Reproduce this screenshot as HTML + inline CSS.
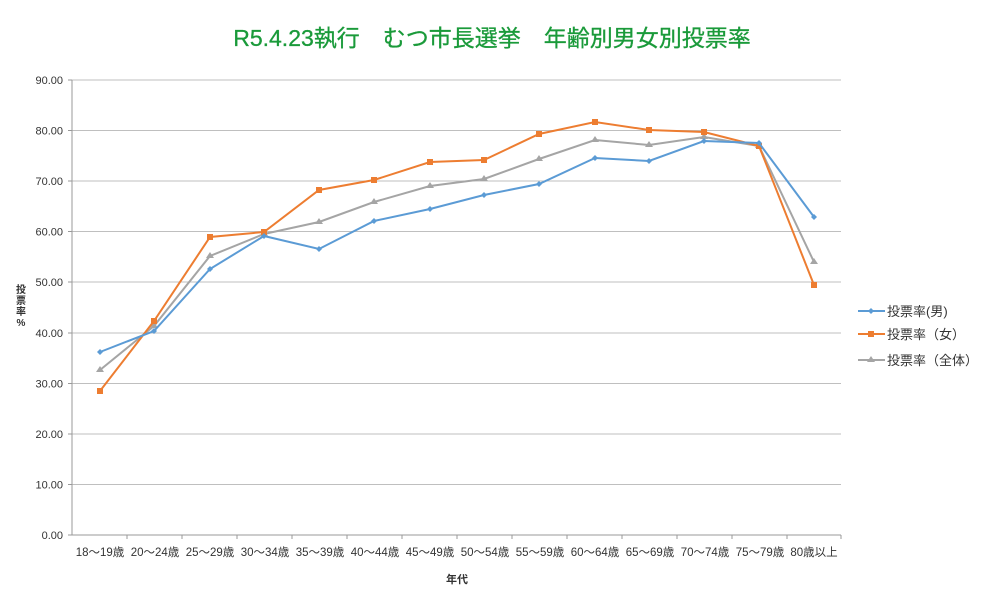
<!DOCTYPE html>
<html><head><meta charset="utf-8"><style>body{margin:0;background:#fff}svg{display:block}</style></head><body>
<svg width="1000" height="615" xmlns="http://www.w3.org/2000/svg" font-family="'Liberation Sans','Noto Sans CJK JP',sans-serif">
<text x="492" y="46" text-anchor="middle" font-size="23" fill="#1a9a3a" stroke="#1a9a3a" stroke-width="0.3">R5.4.23執行　むつ市長選挙　年齢別男女別投票率</text>
<g stroke="#bfbfbf" stroke-width="1">
<line x1="72" y1="80" x2="841" y2="80"/><line x1="72" y1="130.5" x2="841" y2="130.5"/><line x1="72" y1="181" x2="841" y2="181"/><line x1="72" y1="231.5" x2="841" y2="231.5"/><line x1="72" y1="282" x2="841" y2="282"/><line x1="72" y1="333" x2="841" y2="333"/><line x1="72" y1="383.5" x2="841" y2="383.5"/><line x1="72" y1="434" x2="841" y2="434"/><line x1="72" y1="484.5" x2="841" y2="484.5"/>
</g>
<g stroke="#999" stroke-width="1">
<line x1="72" y1="535" x2="841" y2="535"/><line x1="72" y1="80" x2="72" y2="535"/>
<line x1="68" y1="80" x2="72" y2="80"/><line x1="68" y1="130.5" x2="72" y2="130.5"/><line x1="68" y1="181" x2="72" y2="181"/><line x1="68" y1="231.5" x2="72" y2="231.5"/><line x1="68" y1="282" x2="72" y2="282"/><line x1="68" y1="333" x2="72" y2="333"/><line x1="68" y1="383.5" x2="72" y2="383.5"/><line x1="68" y1="434" x2="72" y2="434"/><line x1="68" y1="484.5" x2="72" y2="484.5"/><line x1="68" y1="535" x2="72" y2="535"/>
<line x1="127" y1="535" x2="127" y2="539"/><line x1="182" y1="535" x2="182" y2="539"/><line x1="237" y1="535" x2="237" y2="539"/><line x1="292" y1="535" x2="292" y2="539"/><line x1="347" y1="535" x2="347" y2="539"/><line x1="402" y1="535" x2="402" y2="539"/><line x1="457" y1="535" x2="457" y2="539"/><line x1="512" y1="535" x2="512" y2="539"/><line x1="567" y1="535" x2="567" y2="539"/><line x1="622" y1="535" x2="622" y2="539"/><line x1="677" y1="535" x2="677" y2="539"/><line x1="732" y1="535" x2="732" y2="539"/><line x1="787" y1="535" x2="787" y2="539"/><line x1="841" y1="535" x2="841" y2="539"/>
</g>
<g font-size="11" fill="#333" text-anchor="end">
<text x="63" y="84">90.00</text><text x="63" y="134.5">80.00</text><text x="63" y="185">70.00</text><text x="63" y="235.5">60.00</text><text x="63" y="286">50.00</text><text x="63" y="337">40.00</text><text x="63" y="387.5">30.00</text><text x="63" y="438">20.00</text><text x="63" y="488.5">10.00</text><text x="63" y="539">0.00</text>
</g>
<g font-size="11.5" fill="#333" text-anchor="middle">
<text x="100" y="556">18〜19歳</text><text x="155" y="556">20〜24歳</text><text x="210" y="556">25〜29歳</text><text x="265" y="556">30〜34歳</text><text x="320" y="556">35〜39歳</text><text x="375" y="556">40〜44歳</text><text x="430" y="556">45〜49歳</text><text x="485" y="556">50〜54歳</text><text x="540" y="556">55〜59歳</text><text x="595" y="556">60〜64歳</text><text x="650" y="556">65〜69歳</text><text x="705" y="556">70〜74歳</text><text x="760" y="556">75〜79歳</text><text x="814" y="556">80歳以上</text>
</g>
<text x="457" y="583" font-size="11" fill="#333" text-anchor="middle" font-weight="bold">年代</text>
<g font-size="10" fill="#333" font-weight="bold" text-anchor="middle">
<text x="21" y="293">投</text><text x="21" y="304">票</text><text x="21" y="315">率</text><text x="21" y="326">%</text>
</g>
<polyline fill="none" stroke="#a5a5a5" stroke-width="2" points="100,370 154,326 210,256 264,234 319,222 374,202 430,186 484,179 539,159 595,140 649,145 704,137 759,146 814,262"/>
<g fill="#a5a5a5"><path d="M100,366l4,6h-8z"/><path d="M154,322l4,6h-8z"/><path d="M210,252l4,6h-8z"/><path d="M264,230l4,6h-8z"/><path d="M319,218l4,6h-8z"/><path d="M374,198l4,6h-8z"/><path d="M430,182l4,6h-8z"/><path d="M484,175l4,6h-8z"/><path d="M539,155l4,6h-8z"/><path d="M595,136l4,6h-8z"/><path d="M649,141l4,6h-8z"/><path d="M704,133l4,6h-8z"/><path d="M759,142l4,6h-8z"/><path d="M814,258l4,6h-8z"/></g>
<polyline fill="none" stroke="#ed7d31" stroke-width="2" points="100,391 154,321 210,237 264,232 319,190 374,180 430,162 484,160 539,134 595,122 649,130 704,132 759,146 814,285"/>
<g fill="#ed7d31"><rect x="97" y="388" width="6" height="6"/><rect x="151" y="318" width="6" height="6"/><rect x="207" y="234" width="6" height="6"/><rect x="261" y="229" width="6" height="6"/><rect x="316" y="187" width="6" height="6"/><rect x="371" y="177" width="6" height="6"/><rect x="427" y="159" width="6" height="6"/><rect x="481" y="157" width="6" height="6"/><rect x="536" y="131" width="6" height="6"/><rect x="592" y="119" width="6" height="6"/><rect x="646" y="127" width="6" height="6"/><rect x="701" y="129" width="6" height="6"/><rect x="756" y="143" width="6" height="6"/><rect x="811" y="282" width="6" height="6"/></g>
<polyline fill="none" stroke="#5b9bd5" stroke-width="2" points="100,352 154,331 210,269 264,236 319,249 374,221 430,209 484,195 539,184 595,158 649,161 704,141 759,143 814,217"/>
<g fill="#5b9bd5"><path d="M100,349l3,3l-3,3l-3,-3z"/><path d="M154,328l3,3l-3,3l-3,-3z"/><path d="M210,266l3,3l-3,3l-3,-3z"/><path d="M264,233l3,3l-3,3l-3,-3z"/><path d="M319,246l3,3l-3,3l-3,-3z"/><path d="M374,218l3,3l-3,3l-3,-3z"/><path d="M430,206l3,3l-3,3l-3,-3z"/><path d="M484,192l3,3l-3,3l-3,-3z"/><path d="M539,181l3,3l-3,3l-3,-3z"/><path d="M595,155l3,3l-3,3l-3,-3z"/><path d="M649,158l3,3l-3,3l-3,-3z"/><path d="M704,138l3,3l-3,3l-3,-3z"/><path d="M759,140l3,3l-3,3l-3,-3z"/><path d="M814,214l3,3l-3,3l-3,-3z"/></g>
<g font-size="13" fill="#333">
<line x1="858" y1="311" x2="885" y2="311" stroke="#5b9bd5" stroke-width="2"/><path d="M871,308l3,3l-3,3l-3,-3z" fill="#5b9bd5"/><text x="887" y="316">投票率(男)</text>
<line x1="858" y1="334" x2="885" y2="334" stroke="#ed7d31" stroke-width="2"/><rect x="868" y="331" width="6" height="6" fill="#ed7d31"/><text x="887" y="339">投票率（女）</text>
<line x1="858" y1="360" x2="885" y2="360" stroke="#a5a5a5" stroke-width="2"/><path d="M871,356l4,6h-8z" fill="#a5a5a5"/><text x="887" y="365">投票率（全体）</text>
</g>
</svg>
</body></html>
